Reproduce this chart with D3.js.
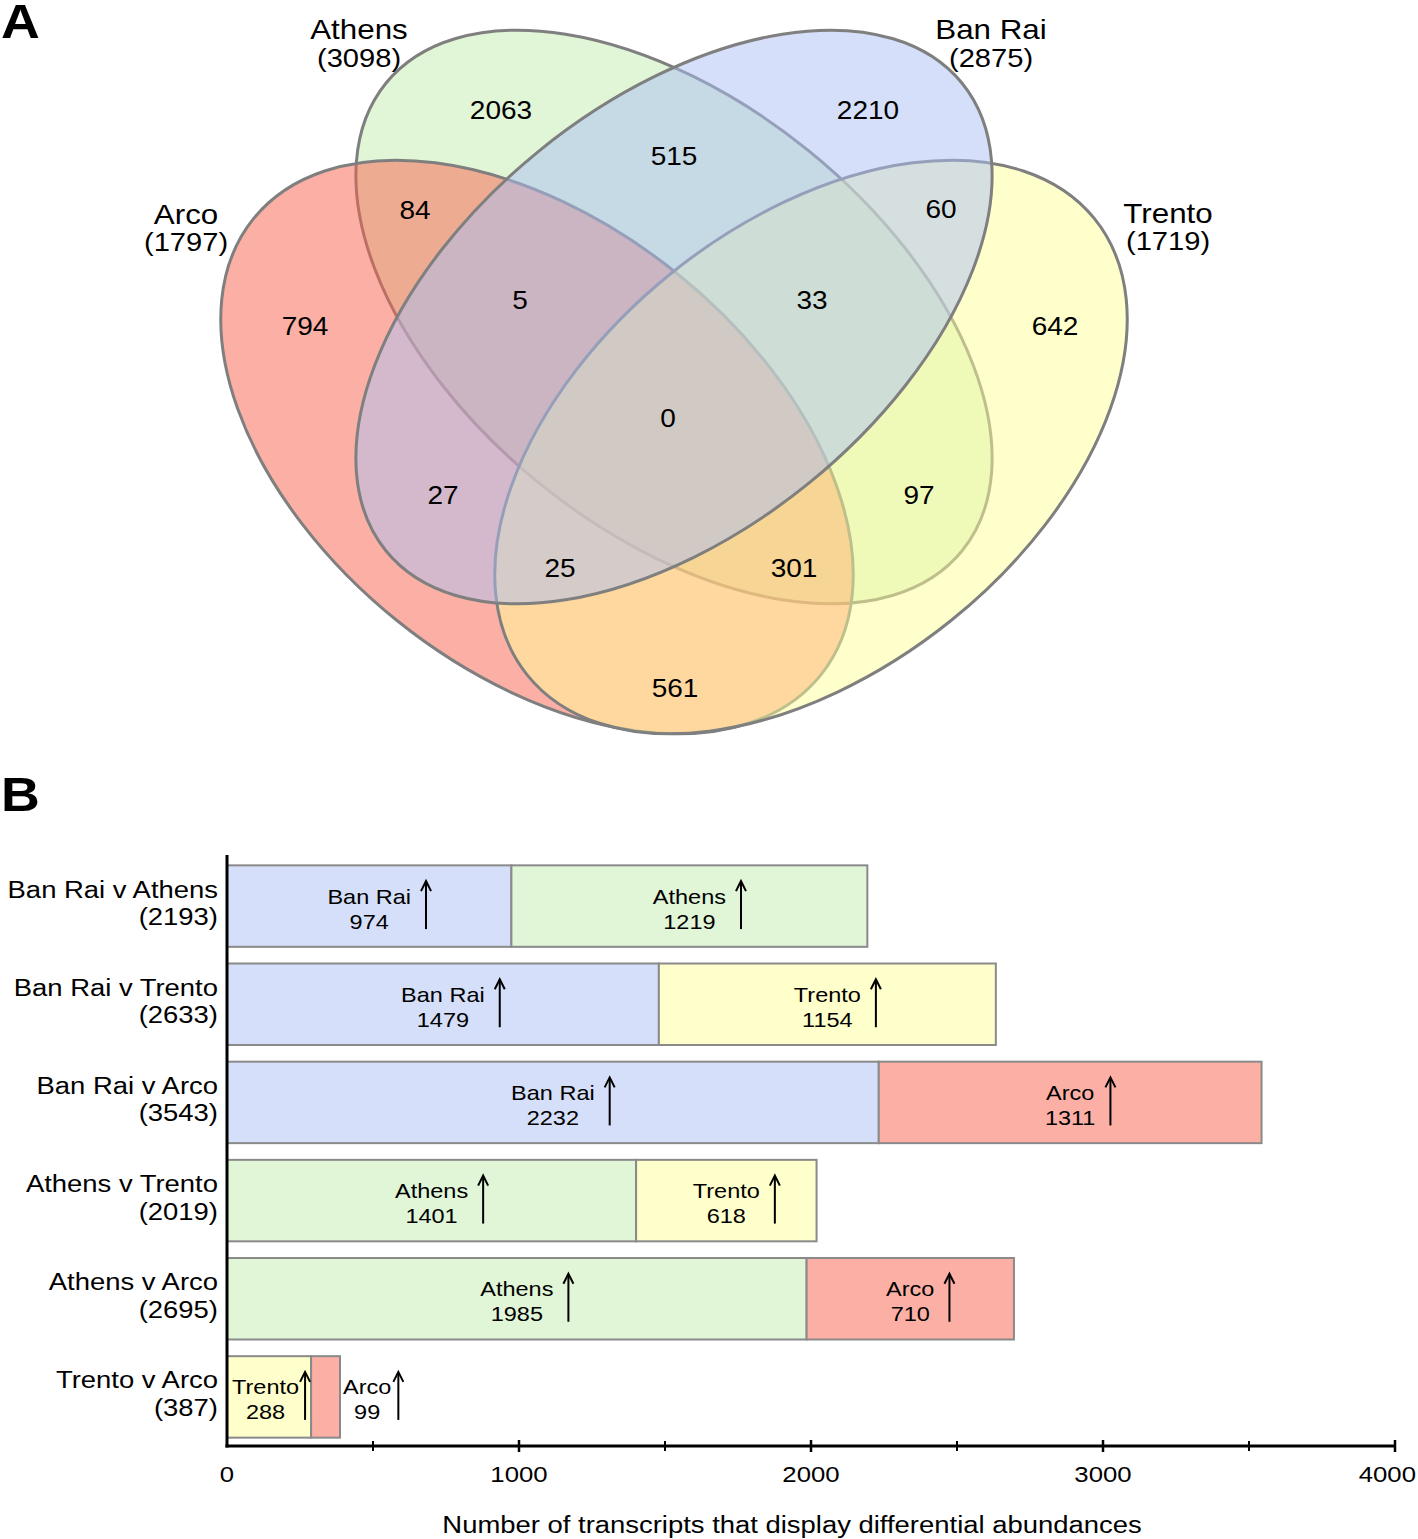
<!DOCTYPE html>
<html><head><meta charset="utf-8">
<script src="https://cdn.jsdelivr.net/npm/d3@7"></script>
<style>
html,body{margin:0;padding:0;background:#fff;}
svg text{font-family:"Liberation Sans",Arial,Helvetica,sans-serif;fill:#000;}
</style></head>
<body><svg id="chart" width="1418" height="1539"></svg>
<script>
// ---------- DATA ----------
// Venn (A)
const setNames = ["Arco", "Athens", "Ban Rai", "Trento"];
const setTotals = [1797, 3098, 2875, 1719];
// region keys: membership of Arco(A) Athens(T) BanRai(B) Trento(R)
const regionKeys = ["A", "T", "B", "R", "AT", "TB", "BR", "ATB", "TBR", "ATBR", "AB", "TR", "ABR", "ATR", "AR"];
const regionCounts = [794, 2063, 2210, 642, 84, 515, 60, 5, 33, 0, 27, 97, 25, 301, 561];

// Bars (B)
const comparisons = ["Ban Rai v Athens", "Ban Rai v Trento", "Ban Rai v Arco", "Athens v Trento", "Athens v Arco", "Trento v Arco"];
const firstGroup = ["Ban Rai", "Ban Rai", "Ban Rai", "Athens", "Athens", "Trento"];
const firstUp = [974, 1479, 2232, 1401, 1985, 288];
const secondGroup = ["Athens", "Trento", "Arco", "Trento", "Arco", "Arco"];
const secondUp = [1219, 1154, 1311, 618, 710, 99];
const xTicksMajor = [0, 1000, 2000, 3000, 4000];
const xTicksMinor = [500, 1500, 2500, 3500];
const xTitle = "Number of transcripts that display differential abundances";

// ---------- STYLE ----------
const SX = 1.12; // horizontal stretch of the original typography
const vennBase = {"Arco": "#f9614b", "Athens": "#c3ebaf", "Ban Rai": "#abbff3", "Trento": "#ffff99"};
const barFill = {"Arco": "#fcb0a5", "Athens": "#e1f5d7", "Ban Rai": "#d5dff9", "Trento": "#ffffcc"};

const svg = d3.select("#chart");

function T(g, x, y, str, size, anchor = "middle", weight = "normal") {
  return g.append("text")
    .attr("transform", `translate(${x},${y}) scale(${SX},1)`)
    .attr("text-anchor", anchor)
    .attr("font-size", size)
    .attr("font-weight", weight)
    .text(str);
}

// panel letters
T(svg, 1, 38, "A", 48, "start", "bold");
T(svg, 1, 811, "B", 48, "start", "bold");

// ---------- VENN ----------
const axisX = 674;
const outer = {cx: 537, cy: 447, rx: 364, ry: 223, rot: 38.8};
const inner = {cx: 674, cy: 317, rx: 371, ry: 214, rot: 39.05};
const ellGeom = {
  "Athens": {cx: inner.cx, cy: inner.cy, rx: inner.rx, ry: inner.ry, rot: inner.rot},
  "Arco": {cx: outer.cx, cy: outer.cy, rx: outer.rx, ry: outer.ry, rot: outer.rot},
  "Trento": {cx: 2 * axisX - outer.cx, cy: outer.cy, rx: outer.rx, ry: outer.ry, rot: -outer.rot},
  "Ban Rai": {cx: inner.cx, cy: inner.cy, rx: inner.rx, ry: inner.ry, rot: -inner.rot}
};
const drawOrder = ["Athens", "Arco", "Trento", "Ban Rai"];
const venn = svg.append("g");
venn.selectAll("ellipse").data(drawOrder).join("ellipse")
  .attr("cx", d => ellGeom[d].cx).attr("cy", d => ellGeom[d].cy)
  .attr("rx", d => ellGeom[d].rx).attr("ry", d => ellGeom[d].ry)
  .attr("transform", d => `rotate(${ellGeom[d].rot},${ellGeom[d].cx},${ellGeom[d].cy})`)
  .attr("fill", d => vennBase[d]).attr("fill-opacity", 0.5)
  .attr("stroke", "#7f7f7f").attr("stroke-width", 3);

// set labels
const setLabelPos = {"Athens": [359, 39, 67], "Ban Rai": [991, 39, 67], "Arco": [186, 224, 251], "Trento": [1168, 223, 250]};
setNames.forEach((n, i) => {
  const p = setLabelPos[n];
  T(venn, p[0], p[1], n, 28);
  T(venn, p[0], p[2], `(${setTotals[i]})`, 26);
});

// region labels (centre positions of each region)
const regionPos = {
  "A": [305, 326], "T": [501, 110], "B": [868, 110], "R": [1055, 326],
  "AT": [415, 210], "TB": [674, 156], "BR": [941, 209], "ATB": [520, 300],
  "TBR": [812, 300], "ATBR": [668, 418], "AB": [443, 495], "TR": [919, 495],
  "ABR": [560, 568], "ATR": [794, 568], "AR": [675, 688]
};
regionKeys.forEach((k, i) => {
  const p = regionPos[k];
  T(venn, p[0], p[1] + 9, String(regionCounts[i]), 25);
});

// ---------- BARS ----------
const rows = comparisons.map((c, i) => ({
  name: c, total: firstUp[i] + secondUp[i],
  segs: [
    {group: firstGroup[i], v: firstUp[i], x0: 0, x1: firstUp[i], pos: 0},
    {group: secondGroup[i], v: secondUp[i], x0: firstUp[i], x1: firstUp[i] + secondUp[i], pos: 1}
  ]
}));

const x = d3.scaleLinear().domain([0, 4000]).range([227, 1395]);
const y = d3.scaleBand().domain(comparisons).range([857, 1446]).paddingInner(0.17).paddingOuter(0.085);

const bars = svg.append("g");
const rowG = bars.selectAll("g.row").data(rows).join("g").attr("class", "row");
rowG.selectAll("rect").data(d => d.segs.map(s => ({...s, row: d.name}))).join("rect")
  .attr("x", d => x(d.x0)).attr("width", d => x(d.x1) - x(d.x0))
  .attr("y", d => y(d.row)).attr("height", y.bandwidth())
  .attr("fill", d => barFill[d.group])
  .attr("stroke", "#8a8a8a").attr("stroke-width", 2);

// row labels
rows.forEach(r => {
  const c = y(r.name) + y.bandwidth() / 2;
  T(bars, 218, c - 8.5, r.name, 24.5, "end");
  T(bars, 218, c + 19, `(${r.total})`, 24.5, "end");
});

// in-bar labels with up arrows
function arrow(g, ax, top, bottom) {
  g.append("line").attr("x1", ax).attr("x2", ax).attr("y1", top + 1).attr("y2", bottom)
    .attr("stroke", "#000").attr("stroke-width", 2);
  g.append("path").attr("d", `M${ax - 5},${top + 10} L${ax},${top} L${ax + 5},${top + 10}`)
    .attr("fill", "none").attr("stroke", "#000").attr("stroke-width", 2);
}
rows.forEach(r => {
  const c = y(r.name) + y.bandwidth() / 2;
  r.segs.forEach(s => {
    const lab = bars.append("g");
    const t1 = T(lab, 0, c - 2.5, s.group, 21);
    const t2 = T(lab, 0, c + 22.5, String(s.v), 21);
    const w1 = t1.node().getComputedTextLength() * SX;
    const w2 = t2.node().getComputedTextLength() * SX;
    const bw = Math.max(w1, w2);
    const segW = x(s.x1) - x(s.x0);
    let bc, gap = 15;
    if (segW >= bw + 40) {
      bc = (x(s.x0) + x(s.x1)) / 2;
    } else if (s.pos === 0) {
      bc = x(s.x0) + 5 + bw / 2; gap = 6;
    } else {
      bc = x(s.x1) + 3 + bw / 2; gap = 7;
    }
    t1.attr("transform", `translate(${bc},${c - 2.5}) scale(${SX},1)`);
    t2.attr("transform", `translate(${bc},${c + 22.5}) scale(${SX},1)`);
    arrow(lab, bc + bw / 2 + gap, c - 25, c + 23);
  });
});

// axes
const axisY = 1446;
bars.append("line").attr("x1", 227).attr("x2", 227).attr("y1", 855).attr("y2", axisY + 1.5)
  .attr("stroke", "#000").attr("stroke-width", 3);
bars.append("line").attr("x1", x(0) - 1.5).attr("x2", x(4000)).attr("y1", axisY).attr("y2", axisY)
  .attr("stroke", "#000").attr("stroke-width", 3);
bars.selectAll("line.maj").data(xTicksMajor.slice(1)).join("line").attr("class", "maj")
  .attr("x1", d => x(d)).attr("x2", d => x(d)).attr("y1", axisY - 6).attr("y2", axisY + 6)
  .attr("stroke", "#000").attr("stroke-width", 2.5);
bars.selectAll("line.min").data(xTicksMinor).join("line").attr("class", "min")
  .attr("x1", d => x(d)).attr("x2", d => x(d)).attr("y1", axisY - 5).attr("y2", axisY + 5)
  .attr("stroke", "#000").attr("stroke-width", 2);
xTicksMajor.forEach((t, i) => {
  const last = i === xTicksMajor.length - 1;
  T(bars, last ? 1416 : x(t), 1482, String(t), 23, last ? "end" : "middle");
});
T(bars, 792, 1533, xTitle, 24.5);
</script></body></html>
